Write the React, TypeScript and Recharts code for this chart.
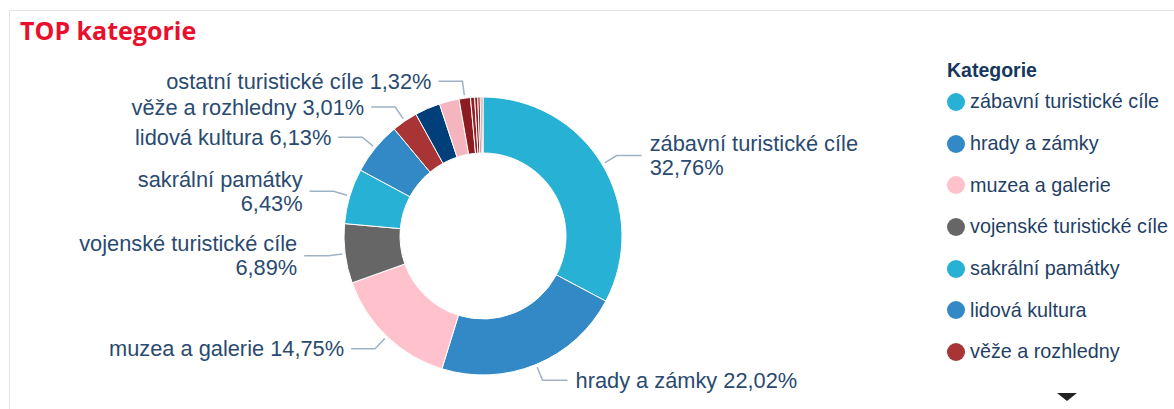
import React from 'react';
import { PieChart, Pie, Cell, Legend } from 'recharts';

const categories = [
  'zábavní turistické cíle',
  'hrady a zámky',
  'muzea a galerie',
  'vojenské turistické cíle',
  'sakrální památky',
  'lidová kultura',
  'věže a rozhledny',
  'technické památky',
  'přírodní zajímavosti',
  'ostatní turistické cíle',
  'lázně a wellness',
  'archeologické lokality',
  'zoo a akvária',
  'hvězdárny a planetária',
  'sportovní areály',
];

const shares = [32.76, 22.02, 14.75, 6.89, 6.43, 6.13, 3.01, 2.95, 2.3, 1.32, 0.48, 0.36, 0.28, 0.2, 0.12];

const colors = [
  '#27B1D5', '#3389C6', '#FFC2CD', '#666666', '#27B1D5', '#3389C6', '#A83436',
  '#003F7A', '#F5B5BE', '#8C1C1F', '#951F22', '#8C1C1F', '#9E2628', '#8C1C1F', '#9A2427',
];

const labeled = new Set([0, 1, 2, 3, 4, 5, 6, 9]);
const wrapped = new Set([0, 3, 4]);
const legendCount = 7;

const data = categories.map((name, i) => ({ name, value: shares[i] }));

const RAD = Math.PI / 180;
const labelColor = '#2A4A70';
const lineColor = '#9FB2C6';
const font = 'Liberation Sans, Arial, sans-serif';

const fmt = (v: number) => v.toFixed(2).replace('.', ',') + '%';

const renderLabel = (props: any) => {
  const { cx, cy, midAngle, outerRadius, index } = props;
  if (!labeled.has(index)) return null;
  const cos = Math.cos(-midAngle * RAD);
  const sin = Math.sin(-midAngle * RAD);
  const x0 = cx + (outerRadius + 3) * cos;
  const y0 = cy + (outerRadius + 3) * sin;
  const x1 = cx + (outerRadius + 17) * cos;
  const y1 = cy + (outerRadius + 17) * sin;
  const right = cos >= 0;
  const x2 = x1 + (right ? 25 : -24);
  const tx = x2 + (right ? 8 : -7);
  const anchor = right ? 'start' : 'end';
  const name = categories[index];
  const pct = fmt(shares[index]);
  return (
    <g>
      <polyline points={`${x0},${y0} ${x1},${y1} ${x2},${y1}`} fill="none" stroke={lineColor} strokeWidth={1.5} />
      {wrapped.has(index) ? (
        <text x={tx} y={y1} textAnchor={anchor} fill={labelColor} fontSize={21.8} fontFamily={font}>
          <tspan x={tx} y={y1 - 12} dominantBaseline="central">{name}</tspan>
          <tspan x={tx} y={y1 + 12} dominantBaseline="central">{pct}</tspan>
        </text>
      ) : (
        <text x={tx} y={y1} textAnchor={anchor} dominantBaseline="central" fill={labelColor} fontSize={21.8} fontFamily={font}>
          {name} {pct}
        </text>
      )}
    </g>
  );
};

const LegendContent = () => (
  <div style={{ fontFamily: font, color: '#1F3F66' }}>
    <div style={{ fontWeight: 'bold', fontSize: 19.5, color: '#17375E', height: 22, lineHeight: '22px' }}>Kategorie</div>
    {categories.slice(0, legendCount).map((c) => (
      <div key={c} style={{ display: 'flex', alignItems: 'center', height: 41.7 }}>
        <span style={{ display: 'inline-block', width: 18, height: 18, borderRadius: '50%', background: colors[c === c ? categories.indexOf(c) : 0], marginRight: 5, flexShrink: 0 }} />
        <span style={{ fontSize: 19.8, whiteSpace: 'nowrap' }}>{c}</span>
      </div>
    ))}
  </div>
);

export default function App() {
  return (
    <div style={{ position: 'fixed', left: 0, top: 0, width: 1174, height: 409, overflow: 'hidden', background: '#fff' }}>
      <div style={{ position: 'absolute', left: 9, top: 10, width: 1180, height: 420, border: '1px solid #E4E4E4', boxSizing: 'border-box' }} />
      <div style={{ position: 'absolute', left: 20, top: 13, fontFamily: 'Open Sans, sans-serif', fontWeight: 700, fontSize: 25, color: '#E8102C' }}>
        TOP kategorie
      </div>
      <div style={{ position: 'absolute', left: 0, top: 0 }}>
        <PieChart width={1174} height={409}>
          <Pie
            data={data}
            dataKey="value"
            nameKey="name"
            cx={478}
            cy={231}
            innerRadius={83}
            outerRadius={139}
            startAngle={90}
            endAngle={-270}
            stroke="#ffffff"
            strokeWidth={1}
            label={renderLabel}
            labelLine={false}
            isAnimationActive={false}
          >
            {data.map((d, i) => (
              <Cell key={d.name} fill={colors[i]} />
            ))}
          </Pie>
          <Legend
            layout="vertical"
            align="right"
            verticalAlign="top"
            content={<LegendContent />}
            wrapperStyle={{ position: 'absolute', left: 947, top: 59, width: 227 }}
          />
        </PieChart>
      </div>
      <svg style={{ position: 'absolute', left: 1057, top: 393 }} width={20} height={10}>
        <polygon points="0,0 20,0 10,8" fill="#222" />
      </svg>
    </div>
  );
}
